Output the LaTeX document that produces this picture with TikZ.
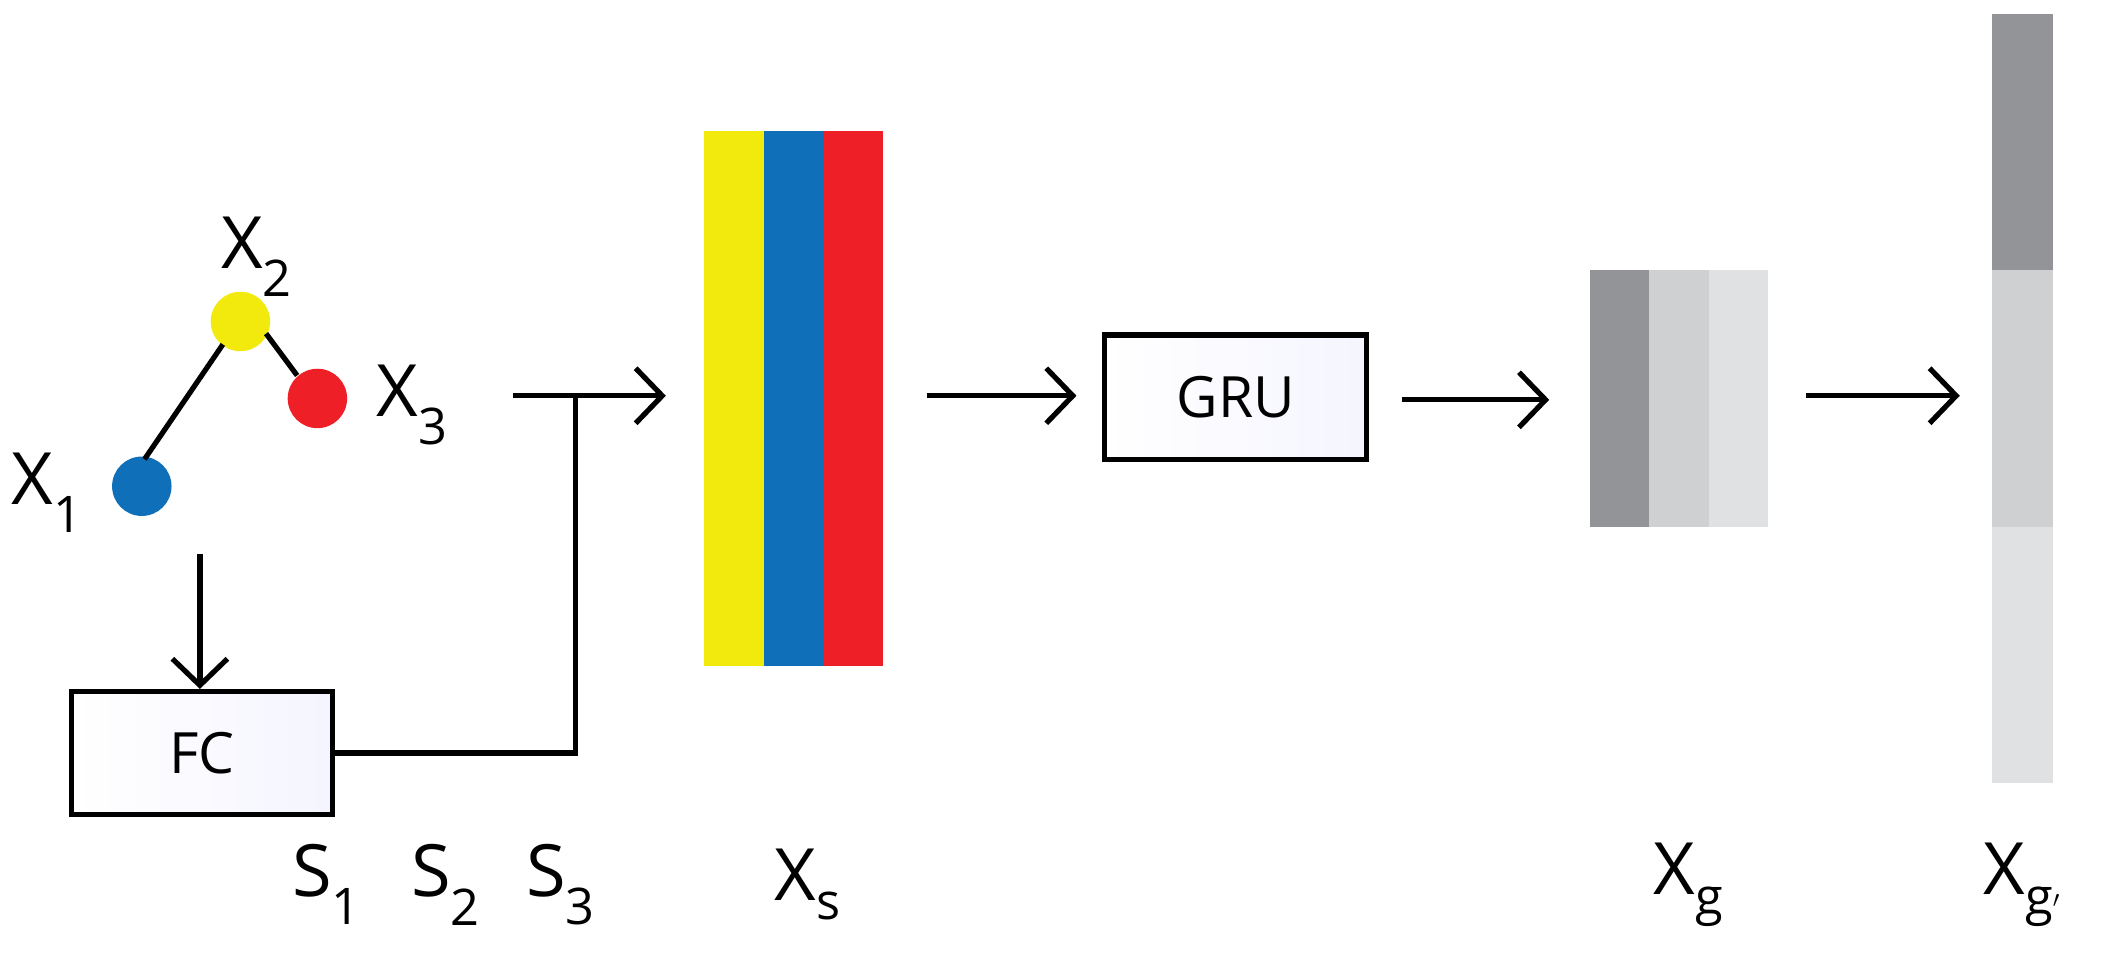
\documentclass[tikz,border=0pt]{standalone}
\usepackage{fontspec}
\setmainfont{Open Sans}
\usetikzlibrary{arrows.meta}
\definecolor{cy}{HTML}{F2EA0C}
\definecolor{cb}{HTML}{0F6FB8}
\definecolor{cr}{HTML}{EE1F26}
\definecolor{g1}{HTML}{929497}
\definecolor{g2}{HTML}{CFD0D2}
\definecolor{g3}{HTML}{E0E1E3}
\begin{document}
\begin{tikzpicture}[x=0.05cm,y=-0.05cm,
  ln/.style={line width=5.5pt,black},
  arr/.style={ln,-{Straight Barb[length=28pt,width=58pt,line width=5.5pt]}},
  box/.style={draw,line width=5.5pt,inner sep=0pt,left color=white,right color=blue!4,font=\fontsize{60}{60}\selectfont},
  lab/.style={font=\fontsize{76}{76}\selectfont,inner sep=0pt},
  dot/.style={circle,inner sep=0pt,minimum size=2.2cm}]
\useasboundingbox (0,0) rectangle (1560,705);
\node[dot,fill=cb] (n1) at (105,360) {};
\node[dot,fill=cy] (n2) at (178,238) {};
\node[dot,fill=cr] (n3) at (235,295) {};
\draw[ln] (107,340) -- (165,255);
\draw[ln] (197,247) -- (220,278);
\node[lab] (l1) at (35,365) {X$_{\mathrm{1}}$};
\node[lab] (l2) at (190,190) {X$_{\mathrm{2}}$};
\node[lab] (l3) at (305,300) {X$_{\mathrm{3}}$};
\node[box,minimum width=9.65cm,minimum height=4.55cm] (fc) at (149.5,557.5) {FC};
\coordinate (dtop) at (148,410);
\draw[arr] (dtop) -- (fc.north -| dtop);
\coordinate (j) at (426,293);
\coordinate (s) at (380,293);
\coordinate (e) at (493,293);
\draw[ln] (fc.east) -- (fc.east -| j) -- (j);
\draw[arr] (s) -- (e);
\node[lab] (s1) at (242,655) {S$_{\mathrm{1}}$};
\node[lab] (s2) at (330,655) {S$_{\mathrm{2}}$};
\node[lab] (s3) at (415,655) {S$_{\mathrm{3}}$};
\fill[cy] (521,97) rectangle (566,493);
\fill[cb] (566,97) rectangle (610,493);
\fill[cr] (610,97) rectangle (654,493);
\node[lab] (xs) at (598,655) {X$_{\mathrm{s}}$};
\node[box,minimum width=9.7cm,minimum height=4.6cm] (gru) at (915,294) {GRU};
\coordinate (a1) at (686,293);
\draw[arr] (a1) -- (797,293);
\coordinate (a2) at (1038,296);
\draw[arr] (a2) -- (1147,296);
\fill[g1] (1177,200) rectangle (1221,390);
\fill[g2] (1221,200) rectangle (1265,390);
\fill[g3] (1265,200) rectangle (1309,390);
\node[lab] (xg) at (1250,655) {X$_{\mathrm{g}}$};
\coordinate (a3) at (1337,293);
\draw[arr] (a3) -- (1451,293);
\fill[g1] (1475,10) rectangle (1520,200);
\fill[g2] (1475,200) rectangle (1520,390);
\fill[g3] (1475,390) rectangle (1520,580);
\node[lab] (xg2) at (1497,655) {X$_{\mathrm{g'}}$};
\end{tikzpicture}
\end{document}
